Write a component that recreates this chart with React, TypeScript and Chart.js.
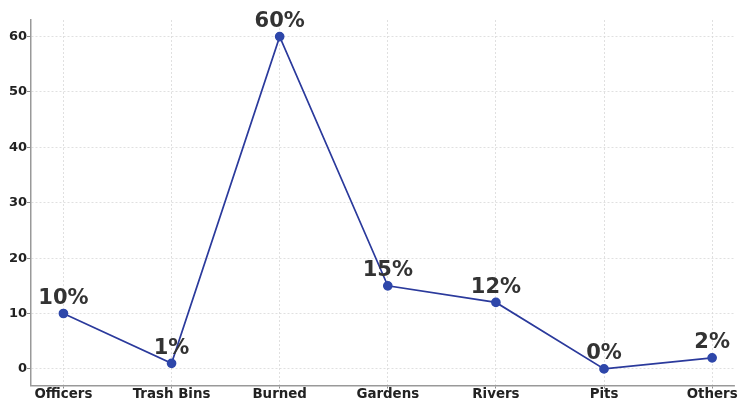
import React, { useEffect, useRef } from "react";
import { Chart, registerables } from "chart.js";

Chart.register(...registerables);

const categories = ["Officers", "Trash Bins", "Burned", "Gardens", "Rivers", "Pits", "Others"];
const values = [10, 1, 60, 15, 12, 0, 2];
const yTicks = [0, 10, 20, 30, 40, 50, 60];

const FONT = "'DejaVu Sans', sans-serif";

const labelPlugin = {
  id: "pctLabels",
  afterDatasetsDraw(chart: any) {
    const ctx = chart.ctx;
    const meta = chart.getDatasetMeta(0);
    ctx.save();
    ctx.font = `bold 21px ${FONT}`;
    ctx.fillStyle = "#333333";
    ctx.textAlign = "center";
    ctx.textBaseline = "alphabetic";
    meta.data.forEach((pt: any, i: number) => {
      ctx.fillText(`${values[i]}%`, pt.x, pt.y - 9.5);
    });
    ctx.restore();
  },
  afterDraw(chart: any) {
    const ctx = chart.ctx;
    const xs = chart.scales.x;
    ctx.save();
    ctx.font = `bold 13.4px ${FONT}`;
    ctx.fillStyle = "#222222";
    ctx.textAlign = "center";
    ctx.textBaseline = "alphabetic";
    categories.forEach((c, i) => {
      ctx.fillText(c, xs.getPixelForValue(i), xs.top + 12);
    });
    ctx.restore();
  },
};

export default function App() {
  const ref = useRef<HTMLCanvasElement | null>(null);

  useEffect(() => {
    if (!ref.current) return;
    const chart = new Chart(ref.current, {
      type: "line",
      data: {
        datasets: [
          {
            data: values.map((v, i) => ({ x: i, y: v })),
            borderColor: "#2b3a9c",
            backgroundColor: "#2e47aa",
            pointBackgroundColor: "#2e47aa",
            pointBorderColor: "#2e47aa",
            borderWidth: 1.7,
            pointRadius: 4,
            tension: 0,
          },
        ],
      },
      options: {
        responsive: false,
        animation: false,
        devicePixelRatio: 1,
        layout: { padding: { top: 20, left: 0, right: 0, bottom: 0 } },
        plugins: { legend: { display: false }, tooltip: { enabled: false } },
        scales: {
          x: {
            type: "linear",
            min: -0.3,
            max: 6.205,
            afterBuildTicks: (scale: any) => {
              scale.ticks = categories.map((_, i) => ({ value: i }));
            },
            afterFit: (scale: any) => {
              scale.height = 13.5;
              scale.paddingLeft = 0;
              scale.paddingRight = 0;
            },
            ticks: { display: false },
            grid: {
              color: "#d9d9d9",
              lineWidth: 0.8,
              tickLength: 3,
              tickColor: "#888888",
              tickWidth: 1,
            },
            border: { display: true, color: "#999999", width: 1.5, dash: [2, 2] },
          },
          y: {
            type: "linear",
            min: -3,
            max: 63,
            afterBuildTicks: (scale: any) => {
              scale.ticks = yTicks.map((v) => ({ value: v }));
            },
            afterFit: (scale: any) => {
              scale.width = 31;
              scale.paddingTop = 0;
              scale.paddingBottom = 0;
            },
            ticks: {
              padding: 0,
              color: "#222222",
              font: { family: FONT, size: 13, weight: "bold" },
            },
            grid: {
              color: "#d9d9d9",
              lineWidth: 0.8,
              tickLength: 4,
              tickColor: "#888888",
              tickWidth: 1,
            },
            border: { display: true, color: "#999999", width: 1.5, dash: [2, 2] },
          },
        },
      },
      plugins: [labelPlugin],
    } as any);
    return () => chart.destroy();
  }, []);

  return (
    <div
      style={{
        position: "fixed",
        left: 0,
        top: 0,
        width: 740,
        height: 399,
        overflow: "hidden",
        background: "#ffffff",
      }}
    >
      <canvas ref={ref} width={740} height={399} style={{ display: "block" }} />
    </div>
  );
}
